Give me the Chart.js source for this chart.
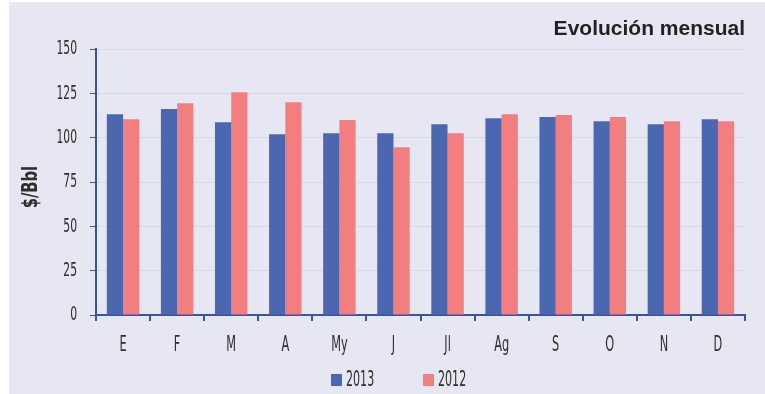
<!DOCTYPE html>
<html>
<head>
<meta charset="utf-8">
<script src="https://cdn.jsdelivr.net/npm/chart.js@4"></script>
<style>
  html, body { margin: 0; padding: 0; background: #ffffff; }
  #wrap { width: 765px; height: 394px; position: relative; }
</style>
</head>
<body>
<div id="wrap"><canvas id="chart" width="765" height="394"></canvas></div>
<script>
// monthly crude price, $/Bbl
const months = ['E', 'F', 'M', 'A', 'My', 'J', 'Jl', 'Ag', 'S', 'O', 'N', 'D'];
const values2013 = [113.3, 116.2, 108.8, 102.0, 102.6, 102.6, 107.7, 111.1, 111.7, 109.4, 107.7, 110.5];
const values2012 = [110.5, 119.5, 125.7, 120.1, 110.0, 94.7, 102.6, 113.3, 112.8, 111.7, 109.4, 109.4];
const yTicks = [0, 25, 50, 75, 100, 125, 150];
const seriesNames = ['2013', '2012'];
const seriesColors = ['#4a67b0', '#f27e80'];

const narrow = '"DejaVu Sans Condensed", "DejaVu Sans", sans-serif';
const axisBlue = '#3a54a4';
const textColor = '#2e2e2e';

// draw text squeezed horizontally, to get the tall narrow look
function squeezed(ctx, text, x, y, opts) {
  ctx.save();
  ctx.font = (opts.bold ? 'bold ' : '') + opts.size + 'px ' + narrow;
  ctx.fillStyle = textColor;
  ctx.textAlign = opts.align || 'center';
  ctx.textBaseline = 'middle';
  ctx.translate(x, y);
  if (opts.rotate) ctx.rotate(opts.rotate);
  ctx.scale(opts.sx || 0.6, 1);
  ctx.fillText(text, 0, 0);
  ctx.restore();
}

// lavender panel behind everything
const panel = {
  id: 'panel',
  beforeDraw(chart) {
    const c = chart.ctx;
    c.save();
    c.fillStyle = '#e7e7f3';
    c.fillRect(9, 2, chart.width - 9, chart.height - 2);
    c.restore();
  }
};

// tick labels, axis title and legend in the narrow face
const labels = {
  id: 'narrowLabels',
  afterDraw(chart) {
    const c = chart.ctx;
    const xs = chart.scales.x;
    const ys = chart.scales.y;
    const area = chart.chartArea;

    yTicks.forEach(v => {
      squeezed(c, String(v), ys.right - 19, ys.getPixelForValue(v), { size: 20, align: 'right' });
    });
    months.forEach((m, i) => {
      squeezed(c, m, xs.getPixelForValue(i), area.bottom + 31, { size: 21 });
    });
    squeezed(c, '$/Bbl', 32, (area.top + area.bottom) / 2 + 5, {
      size: 21, bold: true, rotate: -Math.PI / 2, sx: 0.78
    });

    // legend
    let lx = 331;
    const ly = 380;
    seriesNames.forEach((name, i) => {
      c.fillStyle = seriesColors[i];
      c.fillRect(lx, ly - 6, 11, 12);
      squeezed(c, name, lx + 15, ly, { size: 22, align: 'left', sx: 0.56 });
      lx += 92;
    });
  }
};

new Chart(document.getElementById('chart'), {
  type: 'bar',
  data: {
    labels: months,
    datasets: [
      { label: seriesNames[0], data: values2013, backgroundColor: seriesColors[0] },
      { label: seriesNames[1], data: values2012, backgroundColor: seriesColors[1] }
    ]
  },
  options: {
    responsive: false,
    animation: false,
    layout: { padding: { left: 0, right: 20, top: 14, bottom: 0 } },
    datasets: {
      bar: { barPercentage: 1, categoryPercentage: 0.6 }
    },
    plugins: {
      title: {
        display: true,
        text: 'Evolución mensual',
        align: 'end',
        color: '#222222',
        font: { family: 'Arial, "Liberation Sans", sans-serif', size: 21, weight: 'bold' },
        padding: { top: 3, bottom: 7 }
      },
      legend: { display: false },
      tooltip: { enabled: false }
    },
    scales: {
      x: {
        afterFit(scale) { scale.height = 79; },
        grid: { drawOnChartArea: false, tickColor: axisBlue, tickLength: 6, lineWidth: 2 },
        border: { color: axisBlue, width: 2 },
        ticks: { display: false }
      },
      y: {
        min: 0,
        max: 150,
        afterBuildTicks(scale) {
          scale.ticks = yTicks.map(v => ({ value: v }));
        },
        afterFit(scale) { scale.width = 96; },
        grid: { color: '#d7d7e5', tickColor: axisBlue, tickLength: 6, lineWidth: 1 },
        border: { color: axisBlue, width: 2 },
        ticks: { display: false }
      }
    }
  },
  plugins: [panel, labels]
});
</script>
</body>
</html>
